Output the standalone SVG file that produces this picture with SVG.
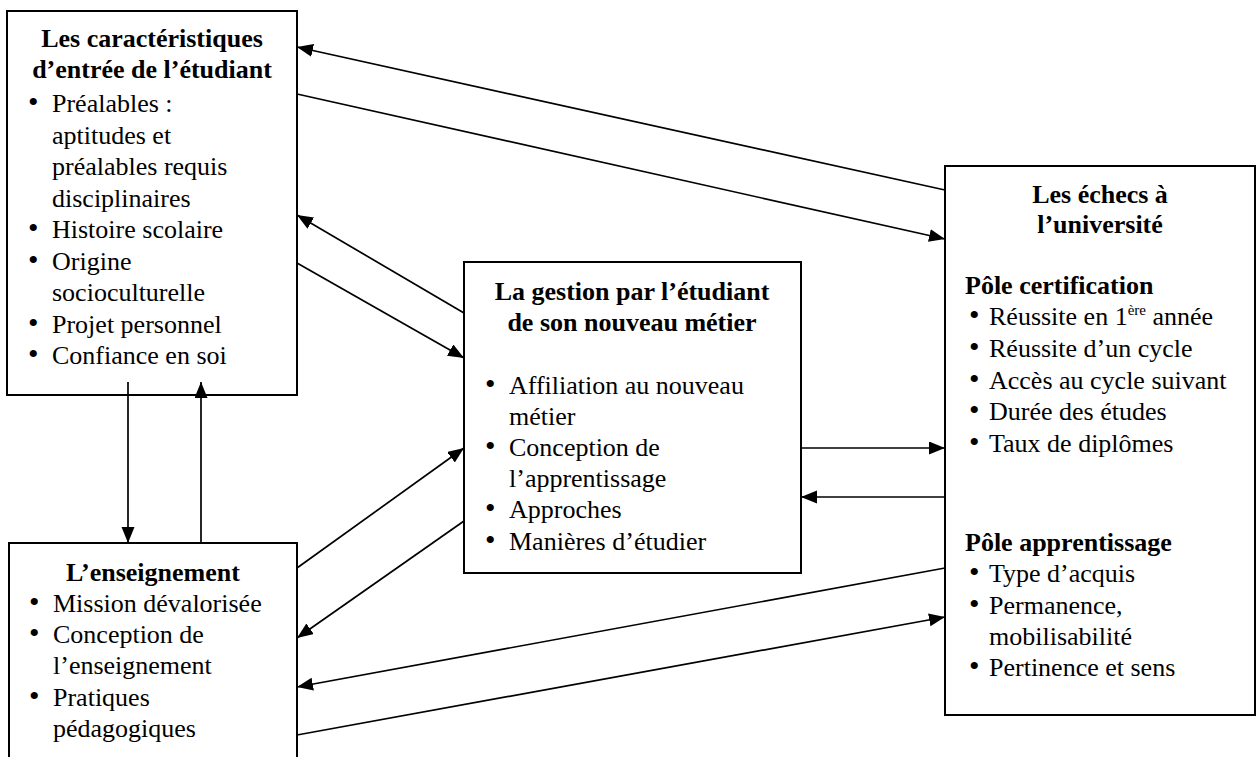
<svg xmlns="http://www.w3.org/2000/svg" width="1258" height="757" viewBox="0 0 1258 757">
<style>
.box{fill:#fff;stroke:#000;stroke-width:2}
.t{font-family:"Liberation Serif","Times New Roman",serif;font-size:26px;fill:#000}
.b{font-weight:bold}
.c{text-anchor:middle}
.bul{font-size:30px}
.sup{font-size:15px}
.con line{stroke:#000;stroke-width:1.7;marker-end:url(#ah)}
</style>
<defs>
<marker id="ah" markerUnits="userSpaceOnUse" markerWidth="18" markerHeight="14" refX="16" refY="6.5" orient="auto">
<path d="M0,0 L16,6.5 L0,13 z" fill="#000"/>
</marker>
</defs>
<rect width="1258" height="757" fill="#fff"/>

<g id="n1">
<rect class="box" x="7" y="11" width="290" height="384"/>
<text class="t b c" x="152" y="47">Les caractéristiques</text>
<text class="t b c" x="152" y="78">d’entrée de l’étudiant</text>
<text class="t" y="112"><tspan class="bul" x="28">•</tspan><tspan x="52">Préalables :</tspan></text>
<text class="t" x="52" y="144">aptitudes et</text>
<text class="t" x="52" y="175">préalables requis</text>
<text class="t" x="52" y="207">disciplinaires</text>
<text class="t" y="238"><tspan class="bul" x="28">•</tspan><tspan x="52">Histoire scolaire</tspan></text>
<text class="t" y="270"><tspan class="bul" x="28">•</tspan><tspan x="52">Origine</tspan></text>
<text class="t" x="52" y="301">socioculturelle</text>
<text class="t" y="333"><tspan class="bul" x="28">•</tspan><tspan x="52">Projet personnel</tspan></text>
<text class="t" y="364"><tspan class="bul" x="28">•</tspan><tspan x="52">Confiance en soi</tspan></text>
</g>

<g id="n2">
<rect class="box" x="9" y="543" width="288" height="230"/>
<text class="t b c" x="153" y="581">L’enseignement</text>
<text class="t" y="612"><tspan class="bul" x="29">•</tspan><tspan x="53">Mission dévalorisée</tspan></text>
<text class="t" y="643"><tspan class="bul" x="29">•</tspan><tspan x="53">Conception de</tspan></text>
<text class="t" x="53" y="674">l’enseignement</text>
<text class="t" y="706"><tspan class="bul" x="29">•</tspan><tspan x="53">Pratiques</tspan></text>
<text class="t" x="53" y="737">pédagogiques</text>
</g>

<g id="n3">
<rect class="box" x="464" y="262" width="337" height="311"/>
<text class="t b c" x="632" y="300">La gestion par l’étudiant</text>
<text class="t b c" x="632" y="331">de son nouveau métier</text>
<text class="t" y="394"><tspan class="bul" x="485">•</tspan><tspan x="509">Affiliation au nouveau</tspan></text>
<text class="t" x="509" y="425">métier</text>
<text class="t" y="456"><tspan class="bul" x="485">•</tspan><tspan x="509">Conception de</tspan></text>
<text class="t" x="509" y="487">l’apprentissage</text>
<text class="t" y="518"><tspan class="bul" x="485">•</tspan><tspan x="509">Approches</tspan></text>
<text class="t" y="550"><tspan class="bul" x="485">•</tspan><tspan x="509">Manières d’étudier</tspan></text>
</g>

<g id="n4">
<rect class="box" x="945" y="166" width="310" height="549"/>
<text class="t b c" x="1100" y="203">Les échecs à</text>
<text class="t b c" x="1100" y="233">l’université</text>
<text class="t b" x="965" y="294">Pôle certification</text>
<text class="t" y="325"><tspan class="bul" x="969">•</tspan><tspan x="989">Réussite en 1</tspan><tspan class="sup" dy="-10">ère</tspan><tspan dy="10"> année</tspan></text>
<text class="t" y="357"><tspan class="bul" x="969">•</tspan><tspan x="989">Réussite d’un cycle</tspan></text>
<text class="t" y="389"><tspan class="bul" x="969">•</tspan><tspan x="989">Accès au cycle suivant</tspan></text>
<text class="t" y="420"><tspan class="bul" x="969">•</tspan><tspan x="989">Durée des études</tspan></text>
<text class="t" y="452"><tspan class="bul" x="969">•</tspan><tspan x="989">Taux de diplômes</tspan></text>
<text class="t b" x="965" y="551">Pôle apprentissage</text>
<text class="t" y="582"><tspan class="bul" x="969">•</tspan><tspan x="989">Type d’acquis</tspan></text>
<text class="t" y="614"><tspan class="bul" x="969">•</tspan><tspan x="989">Permanence,</tspan></text>
<text class="t" x="989" y="645">mobilisabilité</text>
<text class="t" y="676"><tspan class="bul" x="969">•</tspan><tspan x="989">Pertinence et sens</tspan></text>
</g>

<g id="connectors" class="con">
<line x1="945" y1="190" x2="297" y2="47"/>
<line x1="297" y1="94" x2="945" y2="239"/>
<line x1="464" y1="313" x2="297" y2="215"/>
<line x1="297" y1="263" x2="464" y2="358"/>
<line x1="297" y1="568" x2="464" y2="448"/>
<line x1="464" y1="521" x2="297" y2="638"/>
<line x1="945" y1="568" x2="297" y2="687"/>
<line x1="297" y1="735" x2="945" y2="617"/>
<line x1="801" y1="448" x2="945" y2="448"/>
<line x1="945" y1="497" x2="801" y2="497"/>
<line x1="128" y1="382" x2="128" y2="543"/>
<line x1="201" y1="543" x2="201" y2="382"/>
</g>
</svg>
